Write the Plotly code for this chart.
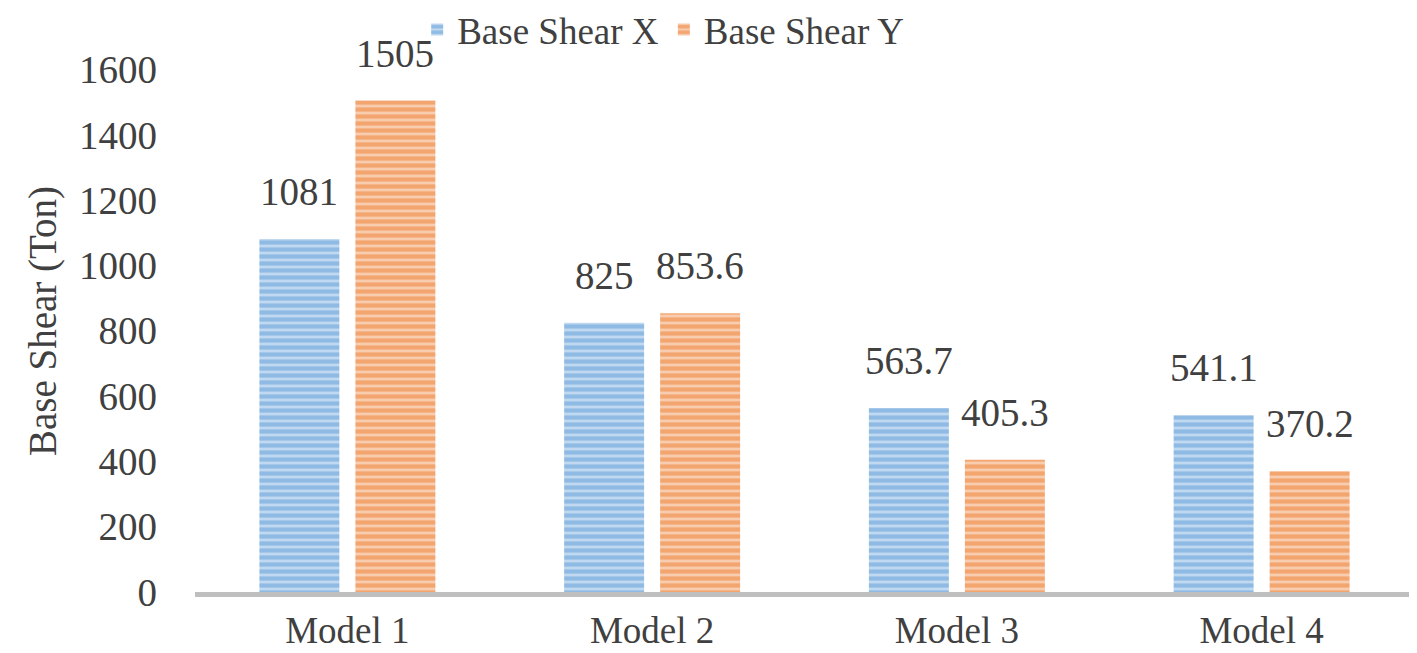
import plotly.graph_objects as go

categories = ["Model 1", "Model 2", "Model 3", "Model 4"]
shear_x = [1081, 825, 563.7, 541.1]
shear_y = [1505, 853.6, 405.3, 370.2]
label_x = ["1081", "825", "563.7", "541.1"]
label_y = ["1505", "853.6", "405.3", "370.2"]

FONT = "Liberation Serif"
TXT = "#404040"
FS = 39

fig = go.Figure()
fig.add_trace(go.Bar(
    name="Base Shear X", x=categories, y=shear_x,
    marker=dict(color="#b9d4ee", line=dict(width=0),
                pattern=dict(shape="-", fgcolor="#5B9BD5", bgcolor="#c0d8f0", size=7, solidity=0.6)),
))
fig.add_trace(go.Bar(
    name="Base Shear Y", x=categories, y=shear_y,
    marker=dict(color="#f8c8a8", line=dict(width=0),
                pattern=dict(shape="-", fgcolor="#ED7D31", bgcolor="#f8ccae", size=7, solidity=0.6)),
))

annotations = []
for c, v, t in zip(categories, shear_x, label_x):
    annotations.append(dict(x=c, y=v, text=t, xref="x", yref="y", showarrow=False,
                            xshift=-48, yshift=24, yanchor="bottom",
                            font=dict(family=FONT, size=FS, color=TXT)))
for c, v, t in zip(categories, shear_y, label_y):
    annotations.append(dict(x=c, y=v, text=t, xref="x", yref="y", showarrow=False,
                            xshift=48, yshift=24, yanchor="bottom",
                            font=dict(family=FONT, size=FS, color=TXT)))

fig.update_layout(
    width=1409, height=645,
    margin=dict(l=187, r=3, t=42, b=61, autoexpand=False),
    paper_bgcolor="white", plot_bgcolor="white",
    font=dict(family=FONT, size=FS, color=TXT),
    barmode="group", bargap=0.37, bargroupgap=0.167,
    showlegend=True,
    legend=dict(orientation="h", xref="container", x=0.465, xanchor="center",
                yref="container", y=0.966, yanchor="middle",
                font=dict(family=FONT, size=37, color=TXT),
                itemwidth=30, bgcolor="rgba(0,0,0,0)"),
    annotations=annotations,
)
fig.update_xaxes(showline=True, linecolor="#BFBFBF", linewidth=5, ticks="", automargin=False,
                 tickfont=dict(family=FONT, size=37, color=TXT), ticklabelstandoff=2)
fig.update_yaxes(range=[0, 1660], dtick=200, showgrid=False, zeroline=False, automargin=False,
                 tickfont=dict(family=FONT, size=FS, color=TXT), ticklabelstandoff=37,
                 title=dict(text="Base Shear (Ton)", font=dict(family=FONT, size=FS, color=TXT), standoff=10))

fig.write_html("out.html")
